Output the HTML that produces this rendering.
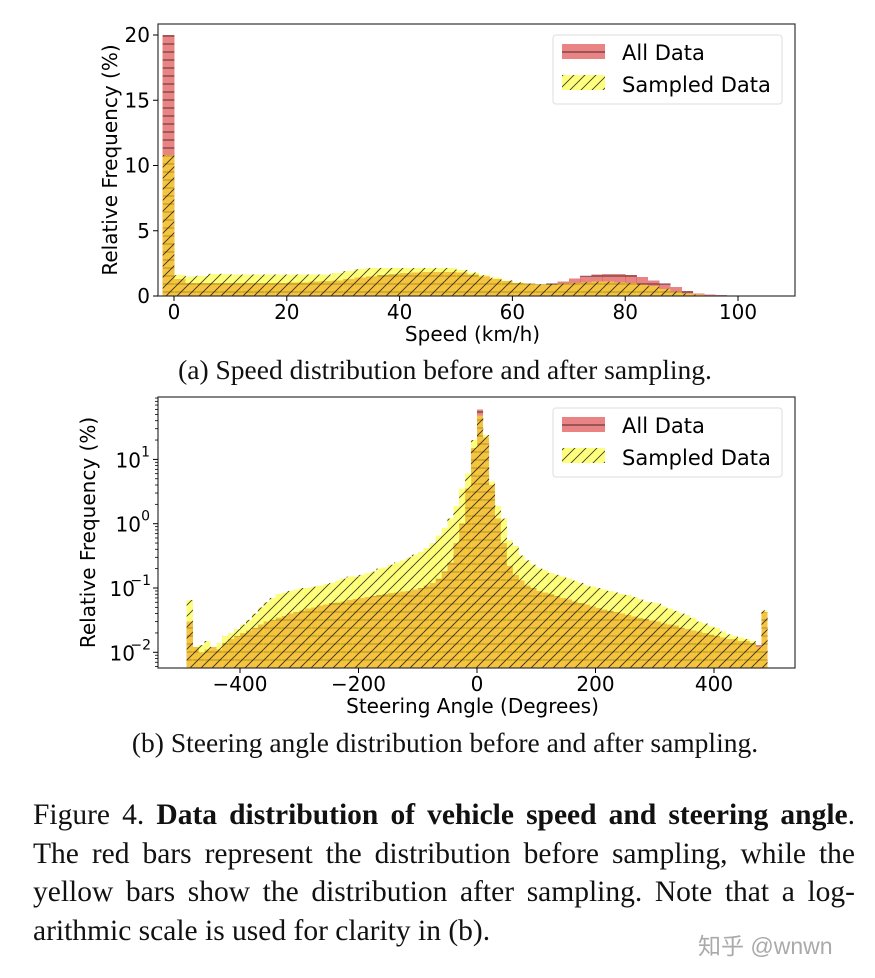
<!DOCTYPE html>
<html><head><meta charset="utf-8"><style>
body{margin:0;background:#fff;width:875px;height:978px;overflow:hidden;position:relative}
svg text{font-family:"DejaVu Sans","Liberation Sans",sans-serif}
.cap{position:absolute;font-family:"Liberation Serif",serif;color:#111}
</style></head><body>
<svg id="fig" width="875" height="978" style="position:absolute;left:0;top:0">
<defs>
<pattern id="hh" patternUnits="userSpaceOnUse" width="10" height="8"><line x1="0" y1="4" x2="10" y2="4" stroke="#000" stroke-opacity="0.65" stroke-width="1"/></pattern>
<pattern id="hd" patternUnits="userSpaceOnUse" width="11" height="11"><path d="M-1,12 L12,-1 M-3,3 L3,-3 M8,14 L14,8" stroke="#000" stroke-opacity="0.75" stroke-width="0.9"/></pattern>
</defs>
<g id="gA"></g><g id="gB"></g>
</svg>
<div class="cap" style="left:0;width:890px;text-align:center;top:354px;font-size:27.5px">(a) Speed distribution before and after sampling.</div>
<div class="cap" style="left:0;width:890px;text-align:center;top:727px;font-size:27.5px">(b) Steering angle distribution before and after sampling.</div>
<div class="cap" style="left:33px;width:822px;top:796px;font-size:29.5px;line-height:38.7px;text-align:justify">Figure 4. <b>Data distribution of vehicle speed and steering angle</b>. The red bars represent the distribution before sampling, while the yellow bars show the distribution after sampling. Note that a log-arithmic scale is used for clarity in (b).</div>
<div class="cap" style="left:698px;top:927px;font-size:23px;color:#aaa;font-family:'Liberation Sans','Noto Sans CJK SC',sans-serif">知乎 @wnwn</div>
<script>
const NS="http://www.w3.org/2000/svg";
// Speed chart data (bins of 2 km/h starting at -2)
const speedStart=-2, speedBin=2;
const speedAll=[20,1.3,1.0,1.0,1.0,1.0,1.0,1.0,1.0,1.0,1.0,1.05,1.05,1.1,1.15,1.2,1.3,1.4,1.5,1.6,1.7,1.75,1.8,1.85,1.85,1.85,1.8,1.65,1.5,1.3,1.15,1.0,0.95,0.9,0.95,1.1,1.35,1.55,1.65,1.7,1.7,1.6,1.45,1.2,0.95,0.7,0.4,0.2,0.1,0.06,0.04,0.03,0.02,0.01];
const speedSampled=[10.8,1.6,1.5,1.55,1.7,1.7,1.65,1.65,1.65,1.65,1.65,1.65,1.65,1.65,1.65,1.75,1.9,2.05,2.15,2.15,2.15,2.15,2.15,2.15,2.15,2.15,2.0,1.8,1.6,1.4,1.2,1.05,0.95,0.9,0.9,0.95,1.0,1.05,1.1,1.1,1.05,1.0,0.9,0.75,0.55,0.35,0.2,0.1,0.05,0.02,0,0,0,0];
const speedXTicks=[0,20,40,60,80,100];
const speedYTicks=[0,5,10,15,20];
// Steering chart data (bins of 10 deg starting at -490)
const steerStart=-490, steerBin=10;
const steerAll=[0.03,0.012,0.01,0.011,0.012,0.011,0.014,0.016,0.018,0.02,0.022,0.024,0.027,0.03,0.032,0.035,0.037,0.04,0.042,0.045,0.048,0.05,0.053,0.055,0.058,0.06,0.062,0.065,0.068,0.07,0.072,0.075,0.078,0.08,0.083,0.085,0.088,0.09,0.095,0.1,0.11,0.12,0.14,0.18,0.25,0.5,1.0,3.5,15,60,22,4,1.2,0.5,0.22,0.16,0.13,0.11,0.1,0.09,0.085,0.08,0.075,0.07,0.066,0.062,0.058,0.055,0.052,0.049,0.046,0.044,0.042,0.04,0.038,0.036,0.034,0.033,0.031,0.03,0.028,0.027,0.026,0.024,0.023,0.022,0.021,0.02,0.019,0.018,0.017,0.016,0.016,0.015,0.015,0.014,0.013,0.042];
const steerSampled=[0.065,0.012,0.013,0.015,0.012,0.014,0.018,0.02,0.023,0.027,0.032,0.04,0.05,0.06,0.07,0.08,0.085,0.09,0.095,0.1,0.1,0.105,0.11,0.115,0.12,0.13,0.14,0.15,0.15,0.16,0.17,0.18,0.2,0.21,0.23,0.25,0.27,0.3,0.33,0.36,0.42,0.5,0.65,0.85,1.2,1.9,3.5,6,20,48,24,4.5,1.9,1.2,0.55,0.45,0.32,0.27,0.23,0.2,0.19,0.17,0.16,0.15,0.14,0.13,0.12,0.11,0.105,0.1,0.095,0.09,0.085,0.08,0.078,0.072,0.067,0.062,0.06,0.058,0.052,0.048,0.044,0.04,0.038,0.034,0.03,0.028,0.025,0.024,0.021,0.019,0.018,0.017,0.016,0.015,0.012,0.045];
const steerXTicks=[-400,-200,0,200,400];
const steerYTicks=[-2,-1,0,1];

function el(p,t,a){const e=document.createElementNS(NS,t);for(const k in a)e.setAttribute(k,a[k]);p.appendChild(e);return e;}
function txt(p,x,y,s,size,anchor,extra){const t=el(p,"text",Object.assign({x:x,y:y,"font-size":size,"text-anchor":anchor||"middle",fill:"#000"},extra||{}));t.textContent=s;return t;}

function chart(g,o){
  const L=o.L,R=o.R,T=o.T,B=o.B;
  const sx=v=>o.x0px+(v-o.x0)*o.xs;
  const sy=o.sy;
  function series(vals,start,bin,fill,pat,name){
    vals.forEach((v,i)=>{
      if(!(v>0))return;
      const x1=sx(start+i*bin),x2=sx(start+(i+1)*bin);
      const y=Math.max(T,sy(v));
      const r=el(g,"rect",{x:x1,y:y,width:x2-x1+0.3,height:B-y,fill:fill,"shape-rendering":"crispEdges"});
      
      
      const h=el(g,"rect",{x:x1,y:y,width:x2-x1+0.3,height:B-y,fill:"url(#"+pat+")"});
      
      
    });
  }
  series(o.all,o.start,o.bin,"rgba(220,50,50,0.6)","hh","all-data");
  series(o.sam,o.start,o.bin,"rgba(255,255,0,0.5)","hd","sampled-data");
  const fr=el(g,"rect",{x:L,y:T,width:R-L,height:B-T,fill:"none",stroke:"#333","stroke-width":1.2});
  
  
  o.xt.forEach(v=>{const x=sx(v);el(g,"line",{x1:x,y1:B,x2:x,y2:B+5,stroke:"#000"});
    const t=txt(g,x,B+23,v<0?"\u2212"+(-v):String(v),20);
    
    });
  o.yt.forEach(v=>{const y=o.tickY(v);el(g,"line",{x1:L-5,y1:y,x2:L,y2:y,stroke:"#000"});
    const t=o.tickLabel(g,L-8,y,v);
    
    });
  if(o.minor)o.minor(g);
  const xl=txt(g,(L+R)/2-4,B+45,o.xlabel,20);
  
  
  const yx=o.ylx,yy=(T+B)/2;
  const yl=txt(g,yx,yy,"Relative Frequency (%)",20,"middle",{transform:"rotate(-90 "+yx+" "+yy+")"});
  
  
  const lg=el(g,"g",{});
  
  
  const ly=o.legY;
  el(lg,"rect",{x:553,y:ly,width:229,height:69,rx:3,fill:"#fff","fill-opacity":0.85,stroke:"#ddd"});
  el(lg,"rect",{x:562,y:ly+9,width:43,height:15,fill:"rgba(220,50,50,0.6)"});
  el(lg,"line",{x1:562,y1:ly+17,x2:605,y2:ly+17,stroke:"#000","stroke-opacity":0.7});
  el(lg,"rect",{x:562,y:ly+40,width:43,height:15,fill:"rgba(255,255,0,0.5)"});
  el(lg,"rect",{x:562,y:ly+40,width:43,height:15,fill:"url(#hd)"});
  const a=txt(lg,622,ly+25,"All Data",21,"start");
  
  
  const b=txt(lg,622,ly+57,"Sampled Data",21,"start");
  
  
}
const gA=document.getElementById("gA");


const aB=296,aYs=13.05;
chart(gA,{L:158,R:795,T:24,B:aB,x0:0,x0px:174,xs:5.64,sy:v=>aB-v*aYs,
  all:speedAll,sam:speedSampled,start:speedStart,bin:speedBin,xt:speedXTicks,yt:speedYTicks,
  tickY:v=>aB-v*aYs,tickLabel:(g,x,y,v)=>txt(g,x,y+7,String(v),20,"end"),
  xlabel:"Speed (km/h)",ylx:117,legY:35});
const gB=document.getElementById("gB");


const bRef=588,bDec=64.3,bB=668;
const bY=v=>bRef-(Math.log10(v)+1)*bDec;
chart(gB,{L:158,R:795,T:397,B:bB,x0:0,x0px:477,xs:0.5925,sy:bY,
  all:steerAll,sam:steerSampled,start:steerStart,bin:steerBin,xt:steerXTicks,yt:steerYTicks,
  tickY:e=>bY(Math.pow(10,e)),
  tickLabel:(g,x,y,e)=>{const t=txt(g,x-(e<0?15:9),y+8,"10",20,"end");
     txt(g,x+(e<0?1:0),y-3,e<0?"\u2212"+(-e):String(e),14,"end");return t;},
  minor:g=>{for(let e=-3;e<2;e++)for(let m=2;m<10;m++){const y=bY(m*Math.pow(10,e));if(y>397&&y<bB)el(g,"line",{x1:155,y1:y,x2:158,y2:y,stroke:"#000","stroke-width":0.8});}},
  xlabel:"Steering Angle (Degrees)",ylx:95,legY:408});
</script>
</body></html>
